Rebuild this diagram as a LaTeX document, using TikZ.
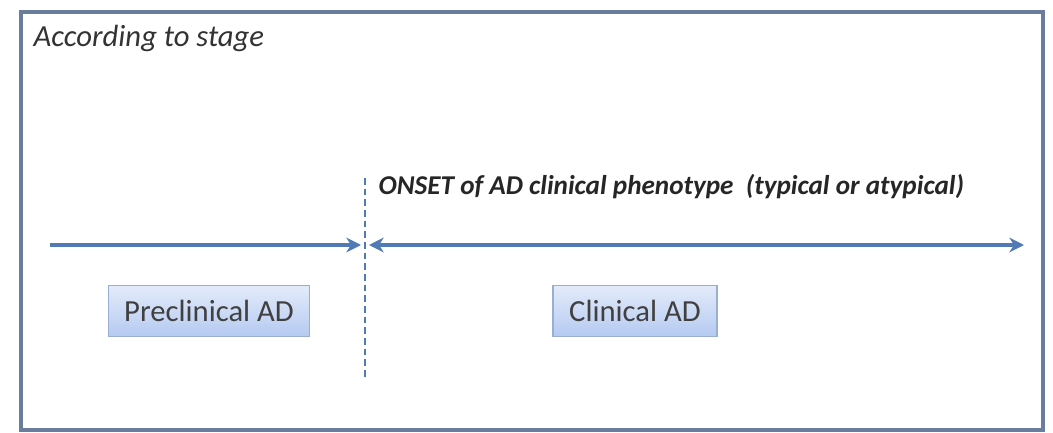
\documentclass[tikz,border=0pt]{standalone}
\usepackage{fontspec}
\setmainfont{Carlito}
\usetikzlibrary{arrows.meta, positioning}
\definecolor{framecol}{HTML}{6B7D9C}
\definecolor{arrowcol}{HTML}{5079B5}
\definecolor{boxline}{HTML}{9AAED3}
\definecolor{boxtop}{HTML}{E3EBFA}
\definecolor{boxbot}{HTML}{B5CAF1}
\tikzstyle{stagebox} = [rectangle, draw=boxline, line width=1pt, top color=boxtop, bottom color=boxbot, text centered, minimum height=38pt, font=\fontsize{23}{26}\selectfont, text=black!75]
\tikzstyle{arrow} = [line width=2.6pt, draw=arrowcol, -{Stealth[length=11pt, width=11pt, inset=3.5pt]}]
\tikzstyle{twoway} = [line width=2.6pt, draw=arrowcol, {Stealth[length=11pt, width=11pt, inset=3.5pt]}-{Stealth[length=11pt, width=11pt, inset=3.5pt]}]
\tikzstyle{onset} = [dashed, draw=arrowcol, line width=2pt, dash pattern=on 5pt off 3pt]

\begin{document}
\begin{tikzpicture}[x=0.75pt, y=-0.75pt]

    \useasboundingbox (0,0) rectangle (1053,432);

    % Frame
    \draw [framecol, line width=2.4pt, fill=white] (21,12) rectangle (1043,430);
    \node (stage) [anchor=west, font=\fontsize{23}{26}\selectfont\itshape, text=black!80] at (29,38) {According to stage};

    % Onset line
    \coordinate (onset_top) at (365,178);
    \coordinate (onset_bot) at (365,378);
    \node (onset) [anchor=west, font=\fontsize{20.4}{23}\selectfont\bfseries\itshape, text=black!85] at (374,187) {ONSET of AD clinical phenotype\ \ (typical or atypical)};

    % Time line
    \coordinate (pre_start) at (50,245);
    \coordinate (pre_end) at (361,245);
    \coordinate (clin_start) at (369,245);
    \coordinate (clin_end) at (1024,245);

    % Stages
    \node (pre) [stagebox, minimum width=151pt] at (209,311) {Preclinical AD};
    \node (clin) [stagebox, minimum width=123pt] at (635,311) {Clinical AD};

    % ==== Arrows
    \draw [onset] (onset_top) -- (onset_bot);
    \draw [arrow] (pre_start) -- (pre_end);
    \draw [twoway] (clin_start) -- (clin_end);

\end{tikzpicture}
\end{document}
